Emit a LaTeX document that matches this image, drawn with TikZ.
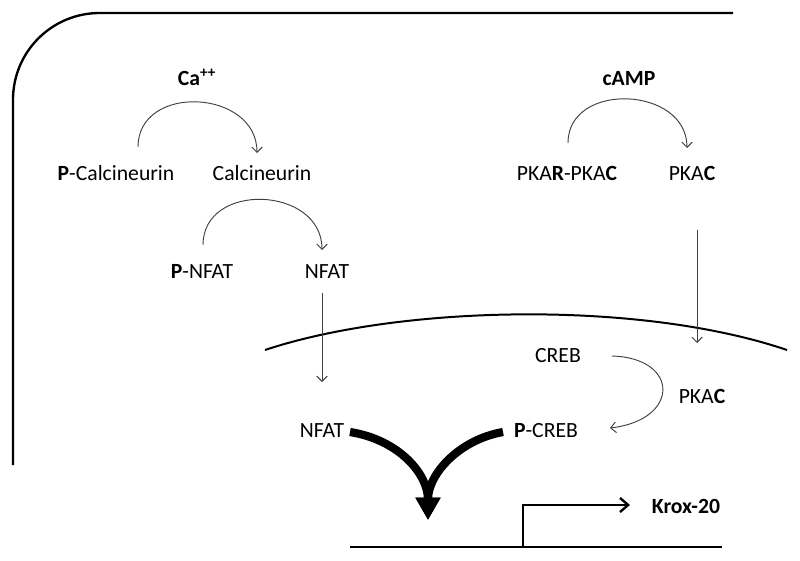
\documentclass[tikz,border=0pt]{standalone}
\usepackage{fontspec}
\setmainfont{Carlito}
\usetikzlibrary{arrows,arrows.meta,positioning}
\tikzset{every picture/.style={line width=0.5pt}}
\tikzstyle{lab}=[inner sep=0pt,anchor=base,font=\fontsize{18.5}{22}\selectfont]
\tikzstyle{blab}=[lab,font=\fontsize{18.5}{22}\selectfont\bfseries]
\tikzstyle{react}=[black!75,line width=0.8pt,-{Straight Barb[length=4.5pt,width=9pt]}]
\tikzstyle{bind}=[line width=7pt,-{Triangle[length=19pt,width=20pt]}]

\begin{document}
\begin{tikzpicture}[x=0.03cm,y=-0.03cm]
\useasboundingbox (0,0) rectangle (800,561);
% cell, nucleus and gene
\draw[line width=2pt,rounded corners=2.6cm] (733,13) -- (13,13) -- (13,465);
\draw[line width=1.7pt] (265,350) .. controls (400,305) and (640,300) .. (787,350);
\draw[line width=2pt] (350,547) -- (722,547);
\coordinate (tss) at (523,547);
\coordinate (merge) at (428,520);

\node[blab] (ca) at (197,85) {Ca\textsuperscript{++}};
\node[lab] (pcal) at (116,180) {\textbf{P}-Calcineurin};
\node[lab] (cal) at (262,180) {Calcineurin};
\node[lab] (pnfat) at (202,278) {\textbf{P}-NFAT};
\node[lab] (nfat) at (327,278) {NFAT};
\node[blab] (camp) at (629,85) {cAMP};
\node[lab] (pkar) at (567,180) {PKA\textbf{R}-PKA\textbf{C}};
\node[lab] (pkac) at (692,180) {PKA\textbf{C}};
\node[lab] (creb) at (558,362) {CREB};
\node[lab] (pkacn) at (702,403) {PKA\textbf{C}};
\node[lab] (nfatn) at (322,437) {NFAT};
\node[lab] (pcreb) at (546,437) {\textbf{P}-CREB};
\node[blab] (krox) at (686,513) {Krox-20};

% activation steps
\draw[react] ([shift={(22,-33)}]pcal.base) .. controls +(0,-64) and +(0,-64) .. ([shift={(-5,-27)}]cal.base);
\draw[react] ([shift={(1,-33)}]pnfat.base) .. controls +(0,-64) and +(0,-64) .. ([shift={(-5,-28)}]nfat.base);
\draw[react] ([shift={(1,-37)}]pkar.base) .. controls +(0,-62) and +(0,-62) .. ([shift={(-5,-32)}]pkac.base);
\draw[react] ([shift={(-5,15)}]nfat.base) -- ([shift={(0,-55)}]nfatn.base);
\draw[react] ([shift={(5,50)}]pkac.base) -- ([shift={(-5,-60)}]pkacn.base);
\draw[react] ([shift={(54,-6)}]creb.base) .. controls +(68,2) and +(70,-8) .. ([shift={(64,-9)}]pcreb.base);

% binding and transcription
\draw[bind] ([shift={(28,-5)}]nfatn.base) .. controls +(50,8) and +(0,-45) .. (merge);
\draw[bind] ([shift={(-43,-5)}]pcreb.base) .. controls +(-45,8) and +(0,-45) .. (merge);
\draw[line width=2pt,-{Straight Barb[length=7pt,width=12pt]}] (tss) |- ([shift={(-56,-8)}]krox.base);
\end{tikzpicture}
\end{document}
